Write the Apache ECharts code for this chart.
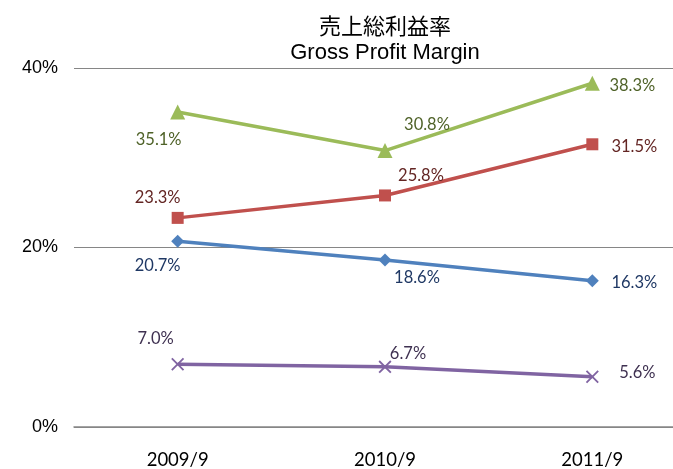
<!DOCTYPE html>
<html>
<head>
<meta charset="utf-8">
<script src="https://cdn.jsdelivr.net/npm/echarts@6/dist/echarts.min.js"></script>
<style>
  html, body { margin: 0; padding: 0; background: #fff; }
  #chart { width: 673px; height: 469px; }
</style>
</head>
<body>
<div id="chart"></div>
<script>
// data
const categories = ["2009/9", "2010/9", "2011/9"];
const seriesGreen = [35.1, 30.8, 38.3];
const seriesRed = [23.3, 25.8, 31.5];
const seriesBlue = [20.7, 18.6, 16.3];
const seriesPurple = [7.0, 6.7, 5.6];
const yTicks = [0, 20, 40];

// label offsets per point (styling only)
const offGreen = [[-19, 28], [42, -26], [40, 2]];
const offRed = [[-20, -20], [36, -20], [42, 2]];
const offBlue = [[-20, 24], [32, 18], [42, 2]];
const offPurple = [[-22, -26], [23, -13], [45, -4]];

const crossPath = "path://M0,1 L1,0 L5,4 L9,0 L10,1 L6,5 L10,9 L9,10 L5,6 L1,10 L0,9 L4,5 Z";

function makeSeries(name, values, offsets, color, labelColor, symbol, size) {
  return {
    name: name,
    type: "line",
    data: values.map(function (v, i) {
      return {
        value: v,
        label: { offset: offsets[i] }
      };
    }),
    symbol: symbol,
    symbolSize: size,
    showAllSymbol: true,
    lineStyle: { color: color, width: 3.5 },
    itemStyle: { color: color },
    label: {
      show: true,
      position: "inside",
      color: labelColor,
      fontFamily: "Lato",
      fontSize: 16.5,
      formatter: function (p) { return p.value.toFixed(1) + "%"; }
    },
    z: 3
  };
}

const myChart = echarts.init(document.getElementById("chart"));
const option = {
  animation: false,
  title: {
    text: "売上総利益率\nGross Profit Margin",
    left: 380,
    top: 10,
    textAlign: "center",
    textStyle: {
      fontFamily: "Liberation Sans, Noto Sans CJK JP",
      fontSize: 22,
      fontWeight: "normal",
      color: "#000",
      lineHeight: 25
    }
  },
  grid: {
    left: 74,
    top: 68,
    width: 622,
    height: 359,
    outerBoundsMode: "none",
    containLabel: false
  },
  xAxis: {
    type: "category",
    data: categories,
    boundaryGap: true,
    axisLine: { lineStyle: { color: "#868686", width: 1.5 } },
    axisTick: { show: false },
    axisLabel: {
      color: "#000",
      fontFamily: "Lato",
      fontSize: 18.5,
      margin: 24
    }
  },
  yAxis: {
    type: "value",
    min: yTicks[0],
    max: yTicks[yTicks.length - 1],
    interval: 20,
    axisLine: { show: false },
    axisTick: { show: false },
    splitLine: { lineStyle: { color: "#868686", width: 1.2 } },
    axisLabel: {
      color: "#000",
      fontFamily: "Liberation Sans",
      fontSize: 18,
      margin: 16,
      padding: [6, 0, 0, 0],
      formatter: "{value}%"
    }
  },
  series: [
    makeSeries("green", seriesGreen, offGreen, "#9BBB59", "#4F6228", "triangle", 15),
    makeSeries("red", seriesRed, offRed, "#C0504D", "#632523", "rect", 12),
    makeSeries("blue", seriesBlue, offBlue, "#4F81BD", "#1F3864", "diamond", 13),
    makeSeries("purple", seriesPurple, offPurple, "#8064A2", "#3F3151", crossPath, 13)
  ]
};
myChart.setOption(option, true);
</script>
</body>
</html>
